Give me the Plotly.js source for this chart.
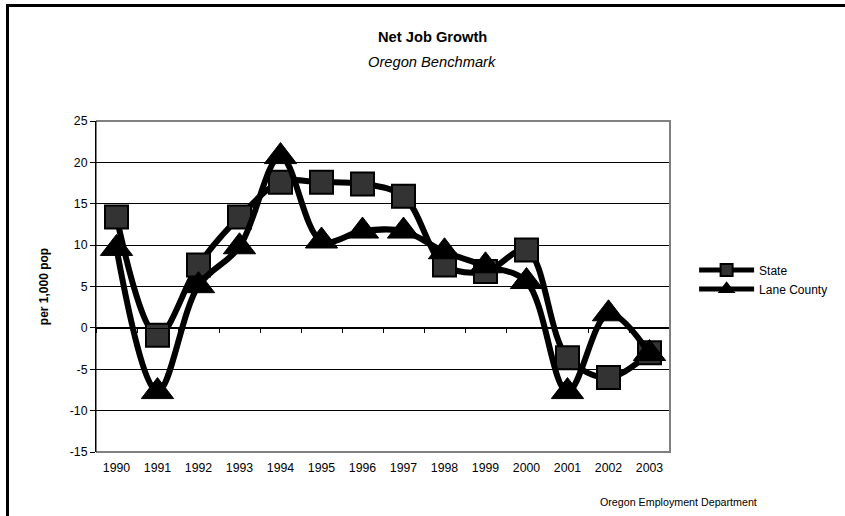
<!DOCTYPE html>
<html>
<head>
<meta charset="utf-8">
<script src="https://cdn.plot.ly/plotly-3.0.1.min.js"></script>
<style>
  html, body { margin: 0; padding: 0; background: #fff; }
  #wrap { position: relative; width: 845px; height: 516px; }
  #chart { width: 845px; height: 516px; }
  #frame { position: absolute; left: 6px; top: 4px; width: 845px; height: 520px;
           border-left: 3px solid #000; border-top: 3px solid #000; pointer-events: none; box-sizing: border-box; }
</style>
</head>
<body>
<div id="wrap">
  <div id="chart"></div>
  <div id="frame"></div>
</div>
<script>
const years = ["1990","1991","1992","1993","1994","1995","1996","1997","1998","1999","2000","2001","2002","2003"];
const stateVals = [13.4, -0.9, 7.6, 13.4, 17.6, 17.6, 17.4, 15.9, 7.6, 6.8, 9.4, -3.6, -6.0, -3.0];
const laneVals  = [9.6, -7.7, 5.1, 9.8, 20.7, 10.5, 11.7, 11.7, 9.2, 7.5, 5.6, -7.7, 1.7, -3.1];
const yTicks = [-15, -10, -5, 0, 5, 10, 15, 20, 25];
const seriesNames = ["State", "Lane County"];
const titleText = "Net Job Growth";
const subtitleText = "Oregon Benchmark";
const yTitle = "per 1,000 pop";
const sourceText = "Oregon Employment Department";

const FONT = "\"Liberation Sans\", Arial, sans-serif";
const yMin = -15, yMax = 25;

const traces = [
  {
    x: years, y: stateVals, name: seriesNames[0], type: "scatter", mode: "lines+markers",
    line: { color: "#000", width: 6, shape: "spline", smoothing: 1 },
    marker: { symbol: "square", size: 23, color: "#333333", line: { color: "#000", width: 2 } },
    hoverinfo: "x+y"
  },
  {
    x: years, y: laneVals, name: seriesNames[1], type: "scatter", mode: "lines+markers",
    line: { color: "#000", width: 6, shape: "spline", smoothing: 1 },
    marker: { symbol: "triangle-up", size: 28, color: "#000", line: { color: "#000", width: 1 } },
    hoverinfo: "x+y"
  },
  {
    x: years, y: stateVals, xaxis: "x2", yaxis: "y", type: "scatter", mode: "lines",
    line: { width: 0, color: "rgba(0,0,0,0)" }, opacity: 0, showlegend: false, hoverinfo: "skip"
  }
];

const layout = {
  width: 845, height: 516,
  margin: { l: 96, r: 175, t: 121, b: 64 },
  paper_bgcolor: "#fff", plot_bgcolor: "#fff",
  font: { family: FONT, color: "#000", size: 12 },
  showlegend: true,
  legend: {
    x: 1.042, xanchor: "left", y: 0.594, yanchor: "top",
    font: { family: FONT, size: 12, color: "#000" },
    itemwidth: 55, itemsizing: "constant", tracegroupgap: 0,
    bgcolor: "rgba(0,0,0,0)"
  },
  xaxis: {
    type: "category", categoryarray: years, range: [-0.5, 13.5],
    showgrid: false, zeroline: false, showline: false, ticks: "",
    ticklabelstandoff: 7,
    tickfont: { family: FONT, size: 12.3, color: "#000" }
  },
  xaxis2: {
    type: "category", categoryarray: years, range: [-0.5, 13.5],
    overlaying: "x", anchor: "free", position: (0 - yMin) / (yMax - yMin),
    showgrid: false, zeroline: false, showline: true, linecolor: "#000", linewidth: 1,
    ticks: "outside", tickson: "boundaries", ticklen: 4, tickcolor: "#000", tickwidth: 1,
    showticklabels: false
  },
  yaxis: {
    range: [yMin, yMax], tickvals: yTicks, ticktext: yTicks.map(String),
    showgrid: true, gridcolor: "#000", gridwidth: 1,
    zeroline: true, zerolinecolor: "#000", zerolinewidth: 1,
    showline: true, linecolor: "#000", linewidth: 1,
    ticks: "outside", ticklen: 5, tickcolor: "#000",
    tickfont: { family: FONT, size: 12.3, color: "#000" },
    title: { text: "<b>" + yTitle + "</b>", font: { family: FONT, size: 12, color: "#000" }, standoff: 18 }
  },
  shapes: [
    { type: "path", xref: "paper", yref: "paper", path: "M 0 0 L 1 0 L 1 1 L 0 1",
      line: { color: "#808080", width: 2 }, layer: "above" },
    { type: "line", xref: "paper", yref: "paper", x0: 0, x1: 0, y0: 0, y1: 1,
      line: { color: "#000", width: 1 }, layer: "above" }
  ],
  annotations: [
    { text: "<b>" + titleText + "</b>", xref: "paper", yref: "paper", x: 0.586, y: 1, yshift: 84,
      xanchor: "center", yanchor: "middle", showarrow: false,
      font: { family: FONT, size: 14.7, color: "#000" } },
    { text: "<i>" + subtitleText + "</i>", xref: "paper", yref: "paper", x: 0.586, y: 1, yshift: 59,
      xanchor: "center", yanchor: "middle", showarrow: false,
      font: { family: FONT, size: 14.7, color: "#000" } },
    { text: sourceText, xref: "paper", yref: "paper", x: 1, xshift: 8, y: 0, yshift: -50,
      xanchor: "center", yanchor: "middle", showarrow: false,
      font: { family: FONT, size: 10.7, color: "#000" } }
  ]
};

Plotly.newPlot("chart", traces, layout, { displayModeBar: false, staticPlot: true });
</script>
</body>
</html>
